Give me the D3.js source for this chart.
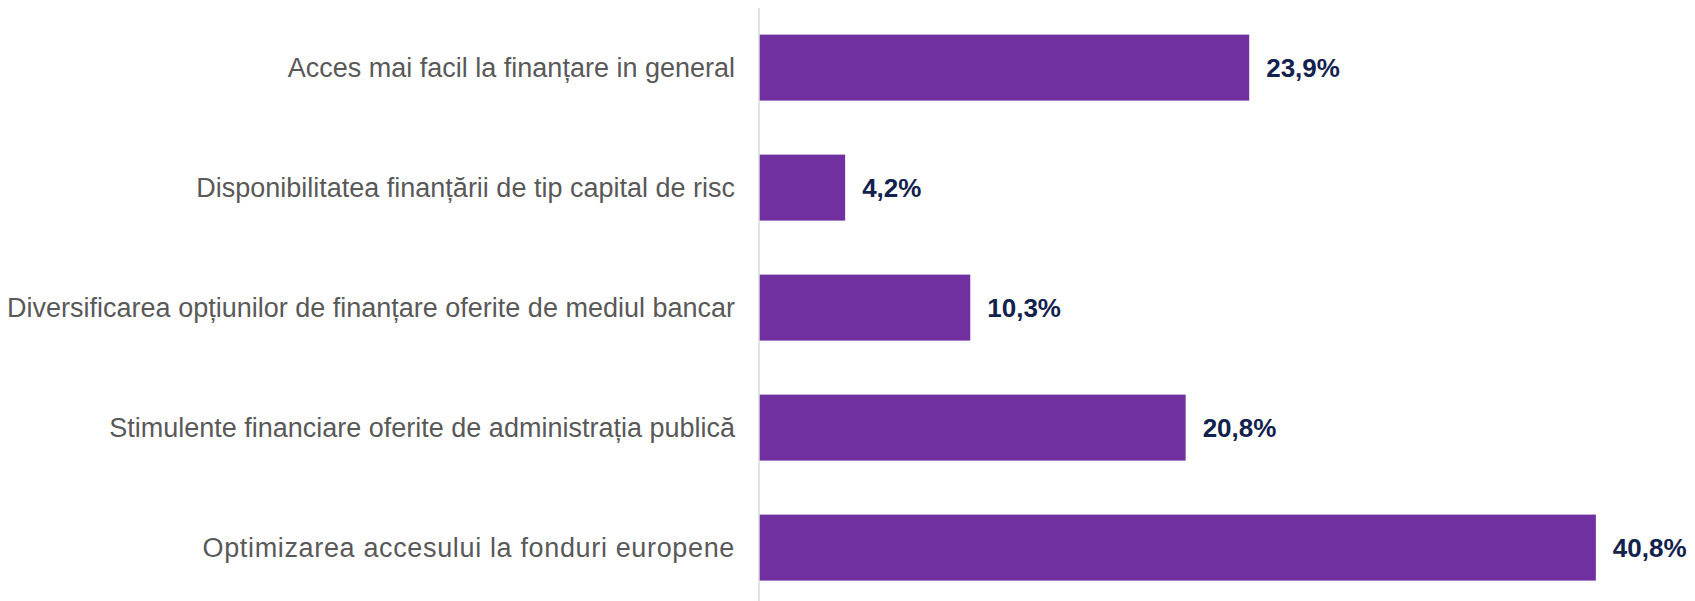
<!DOCTYPE html>
<html>
<head>
<meta charset="utf-8">
<script src="https://cdn.jsdelivr.net/npm/d3@7"></script>
<style>
  html, body { margin: 0; padding: 0; background: #ffffff; }
  svg { display: block; }
</style>
</head>
<body>
<svg id="chart" width="1695" height="601"></svg>
<script>
const categories = [
  "Acces mai facil la finanțare in general",
  "Disponibilitatea finanțării de tip capital de risc",
  "Diversificarea opțiunilor de finanțare oferite de mediul bancar",
  "Stimulente financiare oferite de administrația publică",
  "Optimizarea accesului la fonduri europene"
];
const values = [23.9, 4.2, 10.3, 20.8, 40.8];
const valueLabels = ["23,9%", "4,2%", "10,3%", "20,8%", "40,8%"];

const svg = d3.select("#chart");

const x = d3.scaleLinear().domain([0, 45]).range([759, 1682]);
const y = d3.scaleBand().domain(categories).range([7.6, 607.6])
  .paddingInner(0.45).paddingOuter(0.225);

// bars
svg.append("g").selectAll("rect")
  .data(categories)
  .join("rect")
  .attr("x", x(0))
  .attr("y", d => y(d))
  .attr("width", (d, i) => x(values[i]) - x(0))
  .attr("height", y.bandwidth())
  .attr("fill", "#7030A0");

// vertical axis line
svg.append("line")
  .attr("x1", x(0)).attr("x2", x(0))
  .attr("y1", 8).attr("y2", 601)
  .attr("stroke", "#d9d9d9")
  .attr("stroke-width", 1.5);

// category labels
svg.append("g").selectAll("text")
  .data(categories)
  .join("text")
  .attr("x", x(0) - 24)
  .attr("y", d => y(d) + y.bandwidth() / 2)
  .attr("dy", "0.35em")
  .attr("text-anchor", "end")
  .attr("font-family", "'Liberation Sans', Arial, sans-serif")
  .attr("font-size", 27)
  .attr("letter-spacing", (d, i) => i === categories.length - 1 ? "0.65px" : "0px")
  .attr("fill", "#595959")
  .text(d => d);

// value labels
svg.append("g").selectAll("text")
  .data(categories)
  .join("text")
  .attr("x", (d, i) => x(values[i]) + 17)
  .attr("y", d => y(d) + y.bandwidth() / 2)
  .attr("dy", "0.36em")
  .attr("font-family", "'Liberation Sans', Arial, sans-serif")
  .attr("font-weight", "bold")
  .attr("font-size", 26)
  .attr("fill", "#13224d")
  .text((d, i) => valueLabels[i]);
</script>
</body>
</html>
